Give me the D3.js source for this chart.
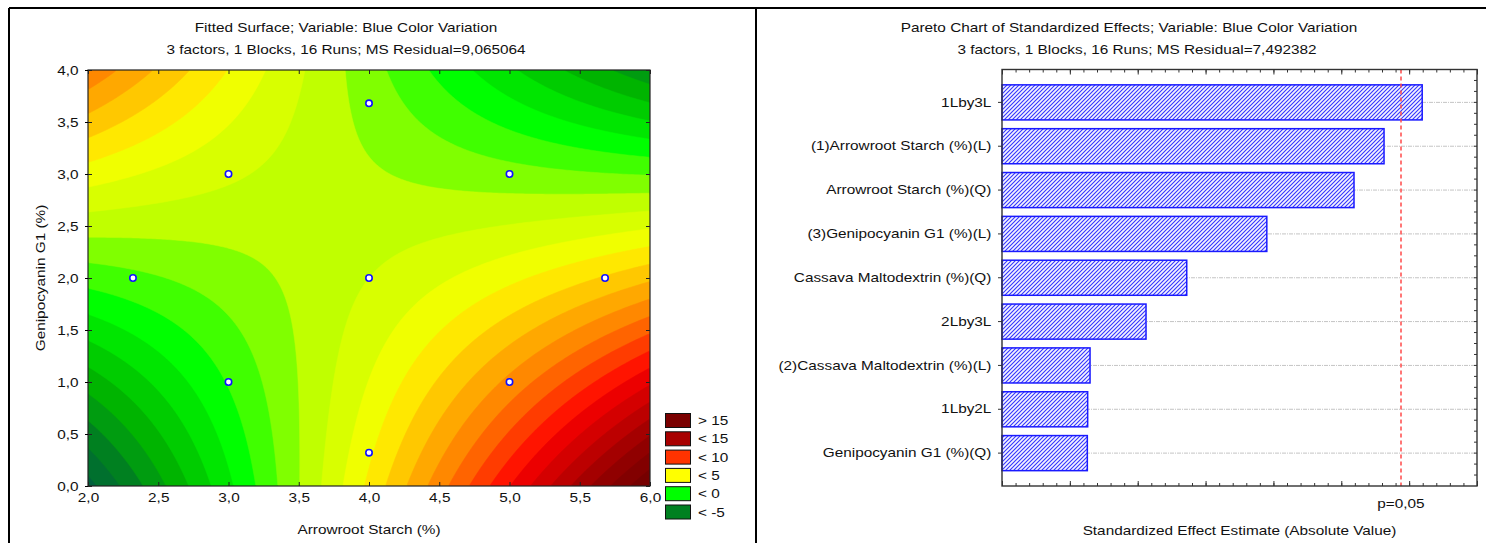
<!DOCTYPE html>
<html><head><meta charset="utf-8">
<script src="https://cdn.jsdelivr.net/npm/d3@7"></script>
<style>
body{margin:0;background:#fff;}
svg{display:block;font-family:"Liberation Sans",Arial,sans-serif;}
</style></head><body>
<svg id="chart" width="1486" height="543"></svg>
<script>
// ================= DATA =================
// Left: fitted quadratic surface, in centred units u = x-4, v = y-2 (coefficients)
const surfaceTerms = ["1", "u", "v", "u^2", "v^2", "u*v"];
const surfaceCoefficients = [3.0, 1.6, -0.95, 0.15, 0.08, -2.5];
// contour band lower bounds and their fills
const contourLevels = [-9,-8,-7,-6,-5,-4,-3,-2,-1,0,1,2,3,4,5,6,7,8,9,10,11,12,13,14,15,16,17,18,19];
const contourColors = ["#005046","#00603c","#00702e","#008020","#009c10","#00b400","#00cc00","#00e600","#00ff00",
  "#40ff00","#80ff00","#c0ff00","#d8ff00","#f0ff00","#ffe800","#ffc800","#ffa800","#ff8800","#ff6400",
  "#ff3c00","#ff1400","#ec0000","#d40000","#bc0000","#a40000","#900000","#820000","#760000","#6c0000"];
// experimental design points
const designX = [2.32, 3, 3, 4, 4, 4, 5, 5, 5.68];
const designY = [2, 1, 3, 0.32, 2, 3.68, 1, 3, 2];
const surfaceXTicks = [2, 2.5, 3, 3.5, 4, 4.5, 5, 5.5, 6];
const surfaceYTicks = [0, 0.5, 1, 1.5, 2, 2.5, 3, 3.5, 4];
const legendLabels = ["> 15", "< 15", "< 10", "< 5", "< 0", "< -5"];
const legendColors = ["#7a0000", "#a80000", "#ff3300", "#ffff00", "#00ff00", "#008020"];

// Right: Pareto chart of standardized effects
const effectLabels = ["1Lby3L", "(1)Arrowroot Starch (%)(L)", "Arrowroot Starch (%)(Q)", "(3)Genipocyanin G1 (%)(L)",
  "Cassava Maltodextrin (%)(Q)", "2Lby3L", "(2)Cassava Maltodextrin (%)(L)", "1Lby2L", "Genipocyanin G1 (%)(Q)"];
const effectValues = [2.477, 2.252, 2.075, 1.561, 1.089, 0.849, 0.519, 0.505, 0.503];
const pCritical = 2.352;
const effectMajorTicks = [0, 0.4, 0.8, 1.2, 1.6, 2.0, 2.4, 2.8];

// ================= DRAW =================
const SX = 1.18; // horizontal stretch of the original bitmap text
const svg = d3.select("#chart");
function label(sel, x, y, s, anchor, size) {
  return sel.append("text")
    .attr("transform", `translate(${x},${y}) scale(${SX},1)`)
    .attr("text-anchor", anchor).attr("dy", "0.35em")
    .attr("font-size", size || 13).attr("fill", "#111").text(s);
}
function stretchAxisText(g) {
  g.selectAll(".tick text").attr("transform", `scale(${SX},1)`).attr("font-size", 13)
    .attr("fill", "#111").attr("font-family", '"Liberation Sans",Arial,sans-serif');
}

// panel frames
const frames = svg.append("g").attr("stroke", "#000").attr("stroke-width", 2);
frames.append("line").attr("x1", 9).attr("y1", 8).attr("x2", 1486).attr("y2", 8);
frames.append("line").attr("x1", 9).attr("y1", 8).attr("x2", 9).attr("y2", 543);
frames.append("line").attr("x1", 756).attr("y1", 8).attr("x2", 756).attr("y2", 543);

// ---------- Left: fitted surface ----------
const L = {x0: 88, x1: 650, y0: 70, y1: 486};
const xs = d3.scaleLinear().domain([2, 6]).range([L.x0, L.x1]);
const ys = d3.scaleLinear().domain([0, 4]).range([L.y1, L.y0]);
const cell = 2;
const nx = Math.round((L.x1 - L.x0) / cell), ny = Math.round((L.y1 - L.y0) / cell);
const [c0, cu, cv, cuu, cvv, cuv] = surfaceCoefficients;
function fitted(x, y) { const u = x - 4, v = y - 2; return c0 + cu*u + cv*v + cuu*u*u + cvv*v*v + cuv*u*v; }
const grid = new Float64Array(nx * ny);
for (let j = 0; j < ny; j++) for (let i = 0; i < nx; i++)
  grid[j*nx + i] = fitted(xs.invert(L.x0 + (i + 0.5) * cell), ys.invert(L.y0 + (j + 0.5) * cell));
const contours = d3.contours().size([nx, ny]).thresholds(contourLevels)(grid);
const geo = d3.geoPath(d3.geoIdentity().scale(cell).translate([L.x0, L.y0]));
svg.append("clipPath").attr("id", "clipL").append("rect")
  .attr("x", L.x0).attr("y", L.y0).attr("width", L.x1 - L.x0).attr("height", L.y1 - L.y0);
svg.append("g").attr("clip-path", "url(#clipL)").selectAll("path").data(contours).join("path")
  .attr("d", geo).attr("fill", (d, i) => contourColors[i]).attr("stroke", (d, i) => contourColors[i]).attr("stroke-width", 0.5);

// design points
svg.append("g").selectAll("circle").data(designX).join("circle")
  .attr("cx", (d) => xs(d)).attr("cy", (d, i) => ys(designY[i])).attr("r", 3.2)
  .attr("fill", "#fff").attr("stroke", "#1010ff").attr("stroke-width", 1.6);

svg.append("rect").attr("x", L.x0).attr("y", L.y0).attr("width", L.x1 - L.x0).attr("height", L.y1 - L.y0)
  .attr("fill", "none").attr("stroke", "#222").attr("stroke-width", 1.2);

const fmt = (d) => d3.format(".1f")(d).replace(".", ",");
const axB = svg.append("g").attr("transform", `translate(0,${L.y1})`)
  .call(d3.axisBottom(xs).tickValues(surfaceXTicks).tickFormat(fmt).tickSizeInner(-4).tickSizeOuter(0).tickPadding(7));
const axL = svg.append("g").attr("transform", `translate(${L.x0},0)`)
  .call(d3.axisLeft(ys).tickValues(surfaceYTicks).tickFormat(fmt).tickSizeInner(-4).tickSizeOuter(0).tickPadding(8));
const axT = svg.append("g").attr("transform", `translate(0,${L.y0})`)
  .call(d3.axisTop(xs).tickValues(surfaceXTicks).tickFormat("").tickSizeInner(-4).tickSizeOuter(0));
const axR = svg.append("g").attr("transform", `translate(${L.x1},0)`)
  .call(d3.axisRight(ys).tickValues(surfaceYTicks).tickFormat("").tickSizeInner(-4).tickSizeOuter(0));
// small outward ticks on the left axis
svg.append("g").attr("transform", `translate(${L.x0},0)`)
  .call(d3.axisLeft(ys).tickValues(surfaceYTicks).tickFormat("").tickSize(3).tickSizeOuter(0))
  .call((g) => g.select(".domain").remove());
[axB, axL, axT, axR].forEach((g) => { g.select(".domain").remove(); g.selectAll(".tick line").attr("stroke", "#222"); stretchAxisText(g); });

label(svg, 346, 27, "Fitted Surface; Variable: Blue Color Variation", "middle");
label(svg, 346, 49, "3 factors, 1 Blocks, 16 Runs; MS Residual=9,065064", "middle");
label(svg, 369, 529, "Arrowroot Starch (%)", "middle");
svg.append("text").attr("transform", `translate(40,${(L.y0 + L.y1) / 2}) rotate(-90) scale(${SX},1)`)
  .attr("text-anchor", "middle").attr("dy", "0.35em").attr("font-size", 13).attr("fill", "#111").text("Genipocyanin G1 (%)");

// legend
const lg = svg.append("g");
legendLabels.forEach((t, i) => {
  lg.append("rect").attr("x", 665.5).attr("y", 413.5 + i * 18.3).attr("width", 25).attr("height", 14)
    .attr("fill", legendColors[i]).attr("stroke", "#111").attr("stroke-width", 1);
  label(lg, 698, 420.5 + i * 18.3, t, "start");
});

// ---------- Right: Pareto chart ----------
const R = {x0: 1002, x1: 1477, y0: 69.5, y1: 486};
const ex = d3.scaleLinear().domain([0, 2.8]).range([R.x0, R.x1]);
const ey = d3.scaleBand().domain(effectLabels).range([R.y0, R.y1]).paddingInner(0.2).paddingOuter(0.35);

const defs = svg.append("defs");
const pat = defs.append("pattern").attr("id", "hatch").attr("patternUnits", "userSpaceOnUse")
  .attr("width", 4).attr("height", 4);
pat.append("rect").attr("width", 4).attr("height", 4).attr("fill", "#f4f4ff");
pat.append("path").attr("d", "M-1,1 L1,-1 M0,4 L4,0 M3,5 L5,3").attr("stroke", "#3434ff").attr("stroke-width", 1.1);

// gridlines at category centres
svg.append("g").selectAll("line").data(effectLabels).join("line")
  .attr("x1", R.x0).attr("x2", R.x1)
  .attr("y1", (d) => ey(d) + ey.bandwidth() / 2).attr("y2", (d) => ey(d) + ey.bandwidth() / 2)
  .attr("stroke", "#c4c4c4").attr("stroke-width", 1).attr("stroke-dasharray", "4,1,1,1");

svg.append("g").selectAll("rect").data(effectValues).join("rect")
  .attr("x", ex(0)).attr("y", (d, i) => ey(effectLabels[i]))
  .attr("width", (d) => ex(d) - ex(0)).attr("height", ey.bandwidth())
  .attr("fill", "url(#hatch)").attr("stroke", "#1a1aff").attr("stroke-width", 1.5);

// p = 0.05 line
svg.append("line").attr("x1", ex(pCritical)).attr("x2", ex(pCritical)).attr("y1", R.y0).attr("y2", R.y1)
  .attr("stroke", "#ff4a4a").attr("stroke-width", 1.5).attr("stroke-dasharray", "4,3");

svg.append("rect").attr("x", R.x0).attr("y", R.y0).attr("width", R.x1 - R.x0).attr("height", R.y1 - R.y0)
  .attr("fill", "none").attr("stroke", "#333").attr("stroke-width", 1.4);

const minorTicks = d3.range(0, 2.8001, 0.08);
[[d3.axisTop, R.y0], [d3.axisBottom, R.y1]].forEach(([ax, yy]) => {
  svg.append("g").attr("transform", `translate(0,${yy})`)
    .call(ax(ex).tickValues(minorTicks).tickFormat("").tickSizeInner(-3).tickSizeOuter(0))
    .call((g) => { g.select(".domain").remove(); g.selectAll("line").attr("stroke", "#333"); });
  svg.append("g").attr("transform", `translate(0,${yy})`)
    .call(ax(ex).tickValues(effectMajorTicks).tickFormat("").tickSizeInner(-5).tickSizeOuter(0))
    .call((g) => { g.select(".domain").remove(); g.selectAll("line").attr("stroke", "#333"); });
});
// left axis: category ticks and labels
const axEL = svg.append("g").attr("transform", `translate(${R.x0},0)`)
  .call(d3.axisLeft(ey).tickSizeInner(4).tickSizeOuter(0).tickPadding(5));
axEL.select(".domain").remove(); axEL.selectAll(".tick line").attr("stroke", "#333");
stretchAxisText(axEL);
// right axis minor ticks (quarter steps)
const quarter = [];
effectLabels.forEach((d) => { const c = ey(d) + ey.bandwidth() / 2; [-2, -1, 0, 1].forEach((m) => quarter.push(c + m * ey.step() / 4)); });
quarter.push(ey(effectLabels[effectLabels.length - 1]) + ey.bandwidth() / 2 + ey.step() / 2);
svg.append("g").selectAll("line").data(quarter.filter((q) => q > R.y0 + 1 && q < R.y1 - 1)).join("line")
  .attr("x1", R.x1).attr("x2", R.x1 - 3).attr("y1", (d) => d).attr("y2", (d) => d).attr("stroke", "#333");

label(svg, 1129, 27, "Pareto Chart of Standardized Effects; Variable: Blue Color Variation", "middle");
label(svg, 1137, 49, "3 factors, 1 Blocks, 16 Runs; MS Residual=7,492382", "middle");
label(svg, ex(pCritical), 503, "p=0,05", "middle");
label(svg, (R.x0 + R.x1) / 2, 530, "Standardized Effect Estimate (Absolute Value)", "middle");
</script>
</body></html>
